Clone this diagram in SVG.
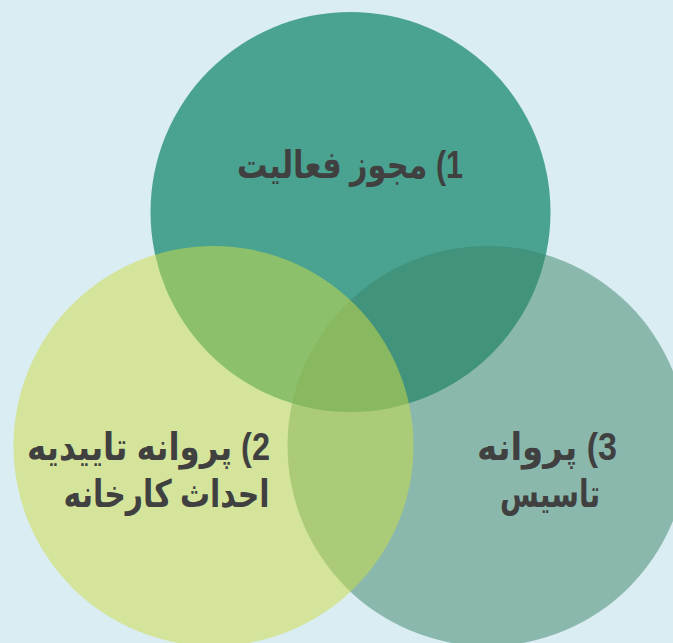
<svg xmlns="http://www.w3.org/2000/svg" width="673" height="643" viewBox="0 0 673 643">
<style>
.lbl{font-family:"Liberation Sans","DejaVu Sans",sans-serif;font-weight:bold;font-size:38px;fill:#404040;direction:rtl;unicode-bidi:embed;text-anchor:middle}
</style>
<rect width="673" height="643" fill="#daedf2"/>
<g id="connectors"/>
<g id="node1">
<circle cx="350.5" cy="212" r="200" fill="#4aa390"/>
<text class="lbl" x="350" y="178" direction="rtl" textLength="226" lengthAdjust="spacingAndGlyphs">1) مجوز فعالیت</text>
</g>
<g id="node3">
<circle cx="487.5" cy="446" r="200" fill="#3a8368" fill-opacity="0.5"/>
<text class="lbl" x="547" y="460" direction="rtl" textLength="140" lengthAdjust="spacingAndGlyphs">3) پروانه</text>
<text class="lbl" x="550" y="507" direction="rtl" textLength="100" lengthAdjust="spacingAndGlyphs">تاسیس</text>
</g>
<g id="node2">
<circle cx="213.5" cy="446" r="200" fill="#cedd44" fill-opacity="0.5"/>
<text class="lbl" x="148.5" y="460" direction="rtl" textLength="243" lengthAdjust="spacingAndGlyphs">2) پروانه تاییدیه</text>
<text class="lbl" x="166.5" y="507" direction="rtl" textLength="206" lengthAdjust="spacingAndGlyphs">احداث کارخانه</text>
</g>
</svg>
